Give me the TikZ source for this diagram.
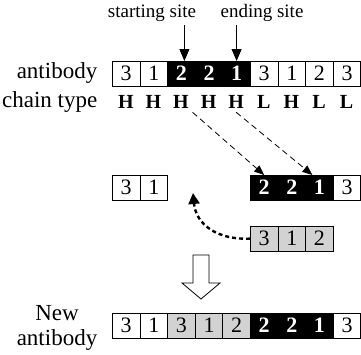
\documentclass[tikz,border=0pt]{standalone}
\usepackage{fontspec}
\setmainfont{Liberation Serif}
\usetikzlibrary{arrows.meta}

\begin{document}
\begin{tikzpicture}[x=1pt, y=-1pt, line width=0.8pt,
    cell/.style={draw, anchor=north west, minimum width=27.6pt, minimum height=24.5pt,
      inner sep=0pt, font=\fontsize{22}{22}\selectfont},
    wcell/.style={cell, fill=white},
    bcell/.style={cell, fill=black, text=white, font=\fontsize{22}{22}\selectfont\bfseries},
    gcell/.style={cell, fill=gray!35},
    lbl/.style={font=\fontsize{23}{25}\selectfont, align=center},
    site/.style={font=\fontsize{19}{20}\selectfont},
    tip/.style={-{Triangle[length=12pt, width=10pt]}},
    move/.style={-{Triangle[length=10pt, width=8pt]}, dash pattern=on 6pt off 4pt}
  ]
        \useasboundingbox (0,0) rectangle (361,354);

        % Antibody row
        \foreach \v/\s [count=\i] in {3/wcell,1/wcell,2/bcell,2/bcell,1/bcell,3/wcell,1/wcell,2/wcell,3/wcell}
          \node[\s] (a\i) at ({112+(\i-1)*27.6},61) {\v};
        \node[lbl, anchor=east] (ab) at (101,73) {antibody};

        % Chain types
        \foreach \c [count=\i] in {H,H,H,H,H,L,H,L,L}
          \node[font=\fontsize{20}{20}\selectfont\bfseries] (c\i) at ({112+(\i-0.5)*27.6},102) {\c};
        \node[lbl, anchor=east] (ct) at (101,102) {chain type};

        % Sites
        \node[site] (ss) at (152,13) {starting site};
        \node[site] (es) at (262,13) {ending site};
        \draw[tip] ([xshift=3pt]a3.north |- ss.south) -- ([xshift=3pt]a3.north);
        \draw[tip] (a5.north |- es.south) -- (a5.north);

        % Middle rows
        \node[wcell] (m1) at (112,175) {3};
        \node[wcell] (m2) at (139.6,175) {1};
        \foreach \v/\s [count=\i] in {2/bcell,2/bcell,1/bcell,3/wcell}
          \node[\s] (r\i) at ({250+(\i-1)*27.6},175) {\v};
        \foreach \v [count=\i] in {3,1,2}
          \node[gcell] (g\i) at ({250+(\i-1)*27.6},226) {\v};

        % Moves
        \draw[move] (c3.south east) -- (r1.north);
        \draw[move] (c5.south) -- ([xshift=-7pt]r3.north);
        \coordinate (ins) at (193,193);
        \draw[-{Triangle[length=11pt, width=11pt]}, line width=2.4pt, dash pattern=on 4pt off 3pt]
          (g1.west) .. controls (218,240) and (196,225) .. (ins);

        % Hollow arrow
        \draw[fill=white] (193,255) -- (209,255) -- (209,283) -- (220,283) -- (201,299)
          -- (182,283) -- (193,283) -- cycle;

        % New antibody
        \foreach \v/\s [count=\i] in {3/wcell,1/wcell,3/gcell,1/gcell,2/gcell,2/bcell,2/bcell,1/bcell,3/wcell}
          \node[\s] (n\i) at ({112+(\i-1)*27.6},313) {\v};
        \node[lbl, anchor=east] (na) at (101,328) {New\\antibody};
\end{tikzpicture}
\end{document}
